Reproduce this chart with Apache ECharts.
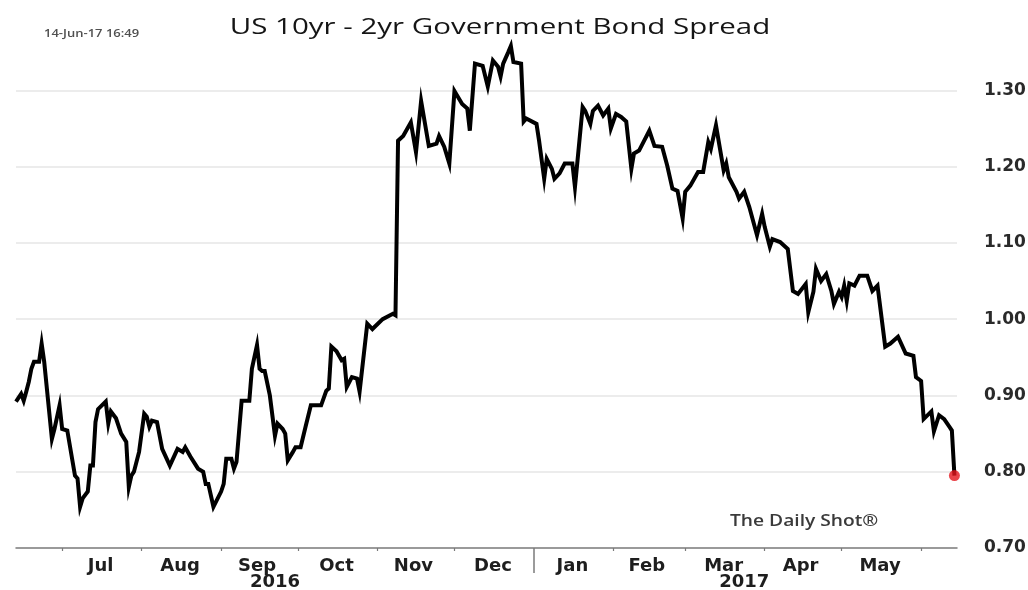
<!DOCTYPE html>
<html>
<head>
<meta charset="utf-8">
<script src="https://cdn.jsdelivr.net/npm/echarts@6/dist/echarts.min.js"></script>
<style>
  html, body { margin: 0; padding: 0; background: #ffffff; }
  #chart { width: 1028px; height: 590px; }
</style>
</head>
<body>
<div id="chart"></div>
<script>
// US 10yr minus 2yr Treasury spread (percentage points), daily observations
const dates = [
  '2016-06-13','2016-06-15','2016-06-16','2016-06-17','2016-06-18','2016-06-19','2016-06-20','2016-06-22','2016-06-23','2016-06-24',
  '2016-06-27','2016-06-28','2016-06-30','2016-07-01','2016-07-03','2016-07-06','2016-07-07','2016-07-08','2016-07-09','2016-07-11',
  '2016-07-12','2016-07-13','2016-07-14','2016-07-15','2016-07-18','2016-07-19','2016-07-20','2016-07-22','2016-07-24','2016-07-26',
  '2016-07-27','2016-07-28','2016-07-29','2016-07-31','2016-08-02','2016-08-03','2016-08-04','2016-08-05','2016-08-07','2016-08-09',
  '2016-08-12','2016-08-15','2016-08-17','2016-08-18','2016-08-20','2016-08-23','2016-08-25','2016-08-26','2016-08-27','2016-08-29',
  '2016-09-01','2016-09-02','2016-09-03','2016-09-05','2016-09-06','2016-09-07','2016-09-09','2016-09-12','2016-09-13','2016-09-15',
  '2016-09-16','2016-09-17','2016-09-18','2016-09-20','2016-09-22','2016-09-23','2016-09-25','2016-09-26','2016-09-27','2016-09-29',
  '2016-09-30','2016-10-02','2016-10-04','2016-10-06','2016-10-10','2016-10-12','2016-10-13','2016-10-14','2016-10-16','2016-10-18',
  '2016-10-19','2016-10-20','2016-10-22','2016-10-24','2016-10-25','2016-10-28','2016-10-30','2016-11-03','2016-11-07','2016-11-08',
  '2016-11-09','2016-11-11','2016-11-14','2016-11-16','2016-11-18','2016-11-21','2016-11-24','2016-11-25','2016-11-27','2016-11-29',
  '2016-12-01','2016-12-04','2016-12-06','2016-12-07','2016-12-09','2016-12-12','2016-12-14','2016-12-16','2016-12-18','2016-12-19',
  '2016-12-20','2016-12-22','2016-12-23','2016-12-24','2016-12-27','2016-12-28','2016-12-29','2017-01-02','2017-01-03','2017-01-05',
  '2017-01-06','2017-01-08','2017-01-09','2017-01-11','2017-01-13','2017-01-16','2017-01-17','2017-01-20','2017-01-21','2017-01-23',
  '2017-01-24','2017-01-26','2017-01-28','2017-01-30','2017-01-31','2017-02-02','2017-02-04','2017-02-06','2017-02-08','2017-02-09',
  '2017-02-11','2017-02-13','2017-02-15','2017-02-17','2017-02-20','2017-02-22','2017-02-24','2017-02-26','2017-02-28','2017-03-01',
  '2017-03-03','2017-03-06','2017-03-08','2017-03-10','2017-03-11','2017-03-13','2017-03-16','2017-03-17','2017-03-18','2017-03-21',
  '2017-03-22','2017-03-24','2017-03-26','2017-03-29','2017-03-31','2017-04-01','2017-04-03','2017-04-04','2017-04-07','2017-04-10',
  '2017-04-12','2017-04-14','2017-04-17','2017-04-18','2017-04-20','2017-04-21','2017-04-23','2017-04-25','2017-04-27','2017-04-28',
  '2017-04-30','2017-05-01','2017-05-02','2017-05-03','2017-05-04','2017-05-06','2017-05-08','2017-05-11','2017-05-13','2017-05-15',
  '2017-05-18','2017-05-20','2017-05-23','2017-05-26','2017-05-29','2017-05-30','2017-06-01','2017-06-02','2017-06-05','2017-06-06',
  '2017-06-08','2017-06-10','2017-06-12','2017-06-13','2017-06-14'
];

const spread = [
  0.892,0.902,0.893,0.905,0.918,0.935,0.944,0.944,0.968,0.944,
  0.843,0.856,0.887,0.856,0.854,0.795,0.791,0.754,0.765,0.774,
  0.808,0.808,0.865,0.882,0.892,0.863,0.879,0.870,0.850,0.839,
  0.780,0.795,0.800,0.826,0.876,0.872,0.859,0.867,0.865,0.830,
  0.808,0.830,0.826,0.832,0.820,0.804,0.800,0.784,0.784,0.754,
  0.774,0.784,0.817,0.817,0.804,0.813,0.893,0.893,0.935,0.966,
  0.935,0.932,0.932,0.900,0.847,0.863,0.856,0.850,0.815,0.826,
  0.832,0.832,0.860,0.887,0.887,0.906,0.909,0.964,0.958,0.946,
  0.948,0.911,0.924,0.922,0.905,0.994,0.987,1.000,1.007,1.005,
  1.234,1.240,1.258,1.219,1.286,1.227,1.230,1.240,1.226,1.204,
  1.299,1.282,1.276,1.247,1.335,1.332,1.305,1.339,1.331,1.318,
  1.335,1.350,1.358,1.337,1.335,1.259,1.263,1.256,1.234,1.184,
  1.210,1.197,1.184,1.191,1.204,1.204,1.173,1.278,1.273,1.256,
  1.273,1.280,1.267,1.276,1.250,1.269,1.265,1.259,1.197,1.217,
  1.221,1.234,1.247,1.227,1.226,1.201,1.171,1.168,1.132,1.167,
  1.175,1.193,1.193,1.232,1.223,1.254,1.195,1.204,1.186,1.167,
  1.158,1.167,1.147,1.110,1.138,1.121,1.095,1.105,1.101,1.092,
  1.037,1.033,1.046,1.009,1.036,1.066,1.050,1.059,1.037,1.020,
  1.036,1.029,1.044,1.024,1.047,1.044,1.057,1.057,1.037,1.044,
  0.964,0.968,0.977,0.955,0.952,0.924,0.919,0.869,0.879,0.853,
  0.874,0.869,0.859,0.854,0.795
];

// Month labels sit mid-month; ticks mark the month boundaries
const monthLabels = ['Jul','Aug','Sep','Oct','Nov','Dec','Jan','Feb','Mar','Apr','May'];
const monthLabelDates = ['2016-07-16','2016-08-16','2016-09-15','2016-10-16','2016-11-15','2016-12-16',
                         '2017-01-16','2017-02-14','2017-03-16','2017-04-15','2017-05-16'];
const monthStarts = ['2016-07-01','2016-08-01','2016-09-01','2016-10-01','2016-11-01','2016-12-01',
                     '2017-02-01','2017-03-01','2017-04-01','2017-05-01','2017-06-01'];
const yearLabels = ['2016','2017'];
const yearLabelDates = ['2016-09-22','2017-03-24'];
const yearBreaks = ['2017-01-01'];
const axisStart = '2016-06-13';
const axisEnd = '2017-06-15';

// dates are handled as UTC milliseconds on a linear axis
const ts = s => { const p = s.split('-').map(Number); return Date.UTC(p[0], p[1] - 1, p[2]); };
const nearestLabel = (v, when, labels) => {
  let best = 0, bd = Infinity;
  when.forEach((s, i) => { const d = Math.abs(ts(s) - v); if (d < bd) { bd = d; best = i; } });
  return labels[best];
};

const series = dates.map((d, i) => [ts(d), spread[i]]);
const last = series[series.length - 1];

const chart = echarts.init(document.getElementById('chart'), null, { renderer: 'canvas' });

const axisFont = '"DejaVu Sans", sans-serif';

chart.setOption({
  animation: false,
  backgroundColor: '#ffffff',
  grid: { left: 16, right: 71, top: 14, bottom: 42, containLabel: false, outerBoundsMode: 'none' },
  xAxis: [
    {
      type: 'value',
      min: ts(axisStart),
      max: ts(axisEnd),
      position: 'bottom',
      axisLine: { show: true, lineStyle: { color: '#7a7a7a', width: 1.5 } },
      axisTick: { show: true, customValues: monthStarts.map(ts), length: 3, lineStyle: { color: '#7a7a7a', width: 1.2 } },
      axisLabel: {
        show: true,
        customValues: monthLabelDates.map(ts),
        formatter: v => nearestLabel(v, monthLabelDates, monthLabels),
        fontFamily: axisFont, fontWeight: 'bold', fontSize: 18, color: '#1e1e1e', margin: 9
      },
      splitLine: { show: false }
    },
    {
      type: 'value',
      min: ts(axisStart),
      max: ts(axisEnd),
      position: 'bottom',
      axisLine: { show: false },
      axisTick: { show: true, customValues: yearBreaks.map(ts), length: 25, lineStyle: { color: '#7a7a7a', width: 1.5 } },
      axisLabel: {
        show: true,
        customValues: yearLabelDates.map(ts),
        formatter: v => nearestLabel(v, yearLabelDates, yearLabels),
        fontFamily: axisFont, fontWeight: 'bold', fontSize: 18, color: '#1e1e1e', margin: 25
      },
      splitLine: { show: false }
    }
  ],
  yAxis: {
    type: 'value',
    position: 'right',
    min: 0.70,
    max: 1.40,
    interval: 0.10,
    axisLine: { show: false },
    axisTick: { show: false },
    axisLabel: {
      showMaxLabel: false,
      formatter: v => v.toFixed(2),
      fontFamily: axisFont, fontWeight: 'bold', fontSize: 17, color: '#2a2a2a', margin: 27
    },
    splitLine: { show: true, showMinLine: false, showMaxLine: false, lineStyle: { color: '#e6e6e6', width: 1.5 } }
  },
  series: [
    {
      type: 'line',
      xAxisIndex: 0,
      data: series,
      showSymbol: false,
      lineStyle: { color: '#000000', width: 4, join: 'miter' },
      z: 3
    },
    {
      type: 'scatter',
      xAxisIndex: 0,
      data: [last],
      symbol: 'circle',
      symbolSize: 11,
      itemStyle: { color: '#e3141b' },
      z: 4
    }
  ],
  graphic: [
    {
      type: 'text', x: 500, y: 28, scaleX: 1.34,
      style: { text: 'US 10yr - 2yr Government Bond Spread', font: '22px "Open Sans", sans-serif', fill: '#151515', align: 'center', verticalAlign: 'middle' }
    },
    {
      type: 'text', x: 44, y: 34, scaleX: 1.3,
      style: { text: '14-Jun-17 16:49', font: '600 10px "Open Sans", sans-serif', fill: '#505050', align: 'left', verticalAlign: 'middle' }
    },
    {
      type: 'text', x: 730, y: 521, scaleX: 1.2,
      style: { text: 'The Daily Shot®', font: '600 16px "Open Sans", sans-serif', fill: '#3a3a3a', align: 'left', verticalAlign: 'middle' }
    }
  ]
});
</script>
</body>
</html>
